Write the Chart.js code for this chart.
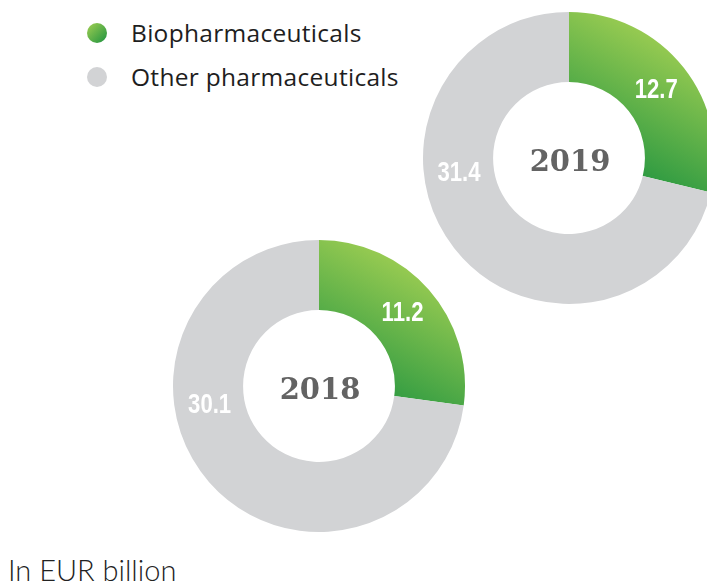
<!DOCTYPE html>
<html>
<head>
<meta charset="utf-8">
<script src="https://cdn.jsdelivr.net/npm/chart.js@4.4.1/dist/chart.umd.min.js"></script>
<style>
  html, body { margin: 0; padding: 0; background: #fff; }
  body { width: 707px; height: 588px; overflow: hidden; position: relative; }
  .wrap { position: absolute; }
  .legend { position: absolute; left: 87px; top: 18px; font-family: "Open Sans", sans-serif; font-size: 24.5px; letter-spacing: 0.3px; color: #1e1e1e; }
  .legend .row { position: relative; height: 44px; line-height: 30px; padding-left: 44px; }
  .legend .dot { position: absolute; left: 0; top: 5px; width: 20px; height: 20px; border-radius: 50%; }
  .note { position: absolute; left: 8px; top: 555px; line-height: 29px; font-family: Lato, sans-serif; font-weight: 300; font-size: 29px; color: #222; }
</style>
</head>
<body>
<div class="legend" id="legend"></div>
<div class="wrap" id="w2018" style="left:169px; top:236px; width:300px; height:300px;"><canvas id="c2018" width="300" height="300"></canvas></div>
<div class="wrap" id="w2019" style="left:419px; top:8px; width:300px; height:300px;"><canvas id="c2019" width="300" height="300"></canvas></div>
<div class="note">In EUR billion</div>
<script>
// ---- data ----
const categories = ['Biopharmaceuticals', 'Other pharmaceuticals'];
const years = ['2019', '2018'];
const values2019 = [12.7, 31.4];
const values2018 = [11.2, 30.1];
const labelFractions = [0.5, 0.62]; // where along each arc its value label sits

const GREY = '#d2d3d5';
const GREEN_LIGHT = '#a3d053';
const GREEN_DARK = '#1c923f';

// legend (HTML)
const legendEl = document.getElementById('legend');
categories.forEach((c, i) => {
  const row = document.createElement('div');
  row.className = 'row';
  const dot = document.createElement('span');
  dot.className = 'dot';
  dot.style.background = i === 0 ? 'linear-gradient(135deg,' + GREEN_LIGHT + ',' + GREEN_DARK + ')' : GREY;
  row.appendChild(dot);
  row.appendChild(document.createTextNode(c));
  legendEl.appendChild(row);
});

function sliceColor(context) {
  if (context.dataIndex !== 0) return GREY;
  const chart = context.chart;
  const area = chart.chartArea;
  if (!area) return GREEN_DARK;
  const cx = (area.left + area.right) / 2;
  const cy = (area.top + area.bottom) / 2;
  const R = Math.min(area.right - area.left, area.bottom - area.top) / 2;
  const g = chart.ctx.createLinearGradient(cx + R * 0.85, cy - R * 0.8, cx + R * 0.3, cy + R * 0.2);
  g.addColorStop(0, GREEN_LIGHT);
  g.addColorStop(1, GREEN_DARK);
  return g;
}

const valueLabels = {
  id: 'valueLabels',
  afterDatasetsDraw(chart) {
    const ctx = chart.ctx;
    const meta = chart.getDatasetMeta(0);
    meta.data.forEach((arc, i) => {
      const p = arc.getProps(['x', 'y', 'startAngle', 'endAngle', 'innerRadius', 'outerRadius'], true);
      const a = p.startAngle + (p.endAngle - p.startAngle) * labelFractions[i];
      const r = (p.innerRadius + p.outerRadius) / 2;
      const v = chart.data.datasets[0].data[i];
      const x = p.x + Math.cos(a) * r, y = p.y + Math.sin(a) * r + 1;
      ctx.save();
      ctx.translate(x, y);
      ctx.scale(0.82, 1);
      ctx.fillStyle = '#ffffff';
      ctx.font = 'bold 27px "Liberation Sans", Arial, sans-serif';
      ctx.textAlign = 'center';
      ctx.textBaseline = 'middle';
      ctx.fillText(v.toFixed(1), 0, 0);
      ctx.restore();
    });
  }
};

const centerText = {
  id: 'centerText',
  afterDatasetsDraw(chart, args, opts) {
    const ctx = chart.ctx;
    const meta = chart.getDatasetMeta(0);
    const arc = meta.data[0];
    if (!arc) return;
    ctx.save();
    ctx.fillStyle = '#636363';
    ctx.font = 'bold 29px "DejaVu Serif", serif';
    ctx.textAlign = 'center';
    ctx.textBaseline = 'middle';
    ctx.fillText(opts.text, arc.x + 1, arc.y + 5);
    ctx.restore();
  }
};

function makeChart(id, values, year) {
  return new Chart(document.getElementById(id), {
    type: 'doughnut',
    data: {
      labels: categories,
      datasets: [{
        data: values,
        backgroundColor: sliceColor,
        borderWidth: 0,
        hoverOffset: 0
      }]
    },
    options: {
      responsive: false,
      animation: false,
      cutout: '52%',
      layout: { padding: 4 },
      plugins: {
        legend: { display: false },
        tooltip: { enabled: false },
        centerText: { text: year }
      },
      events: []
    },
    plugins: [valueLabels, centerText]
  });
}

makeChart('c2019', values2019, years[0]);
makeChart('c2018', values2018, years[1]);
</script>
</body>
</html>
